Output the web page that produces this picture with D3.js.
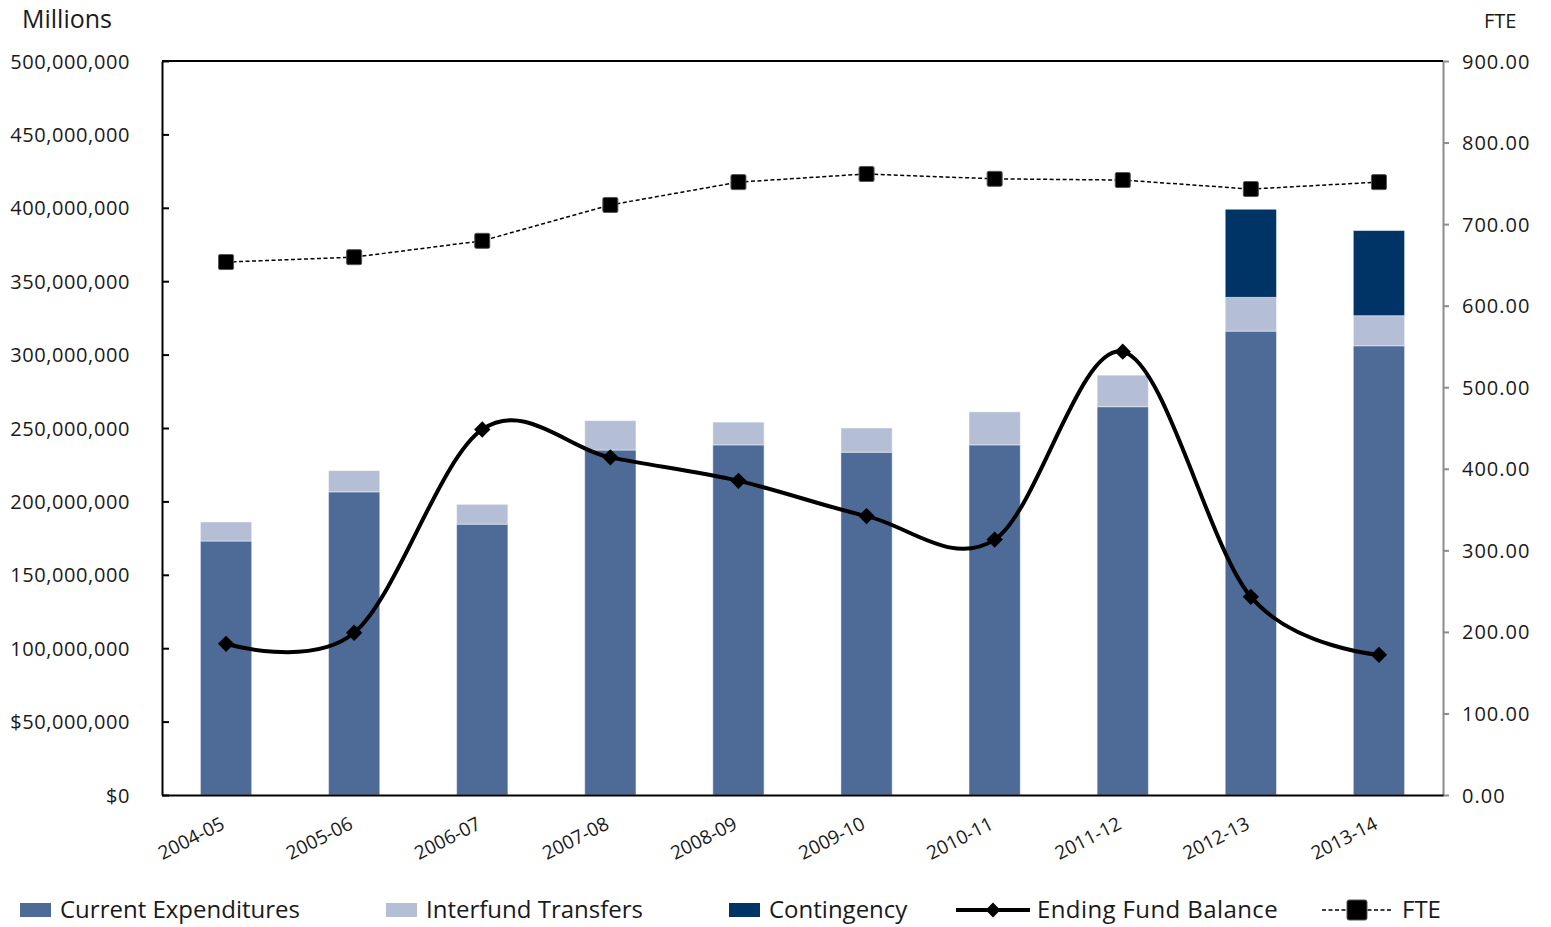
<!DOCTYPE html>
<html>
<head>
<meta charset="utf-8">
<script src="https://cdn.jsdelivr.net/npm/d3@7"></script>
<style>
  body { margin: 0; background: #fff; }
  svg text { font-family: "Open Sans", "Noto Sans", sans-serif; fill: #1a1a1a; }
</style>
</head>
<body>
<svg id="chart" width="1551" height="927"></svg>
<script>
// data (dollars in millions, FTE in positions)
var years = ["2004-05", "2005-06", "2006-07", "2007-08", "2008-09", "2009-10", "2010-11", "2011-12", "2012-13", "2013-14"];
var currentExp = [173, 206.5, 184.5, 235, 238.5, 233.5, 238.5, 264.5, 316, 306];
var interfund = [13, 14.5, 13.5, 20, 15.5, 16.5, 22.5, 21.5, 23, 20.5];
var contingency = [0, 0, 0, 0, 0, 0, 0, 0, 60, 58];
var endingBalance = [103, 110.5, 249, 230, 214, 190, 174, 302, 135, 95.5];
var fte = [653.5, 659.5, 679.5, 723.5, 751.5, 761.5, 755.5, 754, 743, 751.5];
var leftTicks = [0, 50, 100, 150, 200, 250, 300, 350, 400, 450, 500];
var leftTickLabels = ["$0", "$50,000,000", "100,000,000", "150,000,000", "200,000,000", "250,000,000",
                      "300,000,000", "350,000,000", "400,000,000", "450,000,000", "500,000,000"];
var rightTicks = [0, 100, 200, 300, 400, 500, 600, 700, 800, 900];

var colors = {current: "#4e6a96", interfund: "#b4bfd6", contingency: "#003366"};

var svg = d3.select("#chart");
var plotL = 162, plotR = 1443, plotT = 61, plotB = 795;

var x = d3.scaleBand().domain(years).range([plotL, plotR]).paddingInner(0.6).paddingOuter(0.3);
var yL = d3.scaleLinear().domain([0, 500]).range([plotB, plotT]);
var yR = d3.scaleLinear().domain([0, 900]).range([plotB, plotT]);

// stacked bars
var rows = years.map(function(yr, i) {
    return {year: yr, current: currentExp[i], interfund: interfund[i], contingency: contingency[i]};
});
var stack = d3.stack().keys(["current", "interfund", "contingency"]);
var series = stack(rows);

svg.append("g").selectAll("g")
    .data(series)
    .enter().append("g")
    .attr("fill", function(d) { return colors[d.key]; })
    .selectAll("rect")
    .data(function(d) { return d.filter(function(p) { return p[1] > p[0]; }); })
    .enter().append("rect")
    .attr("x", function(d) { return x(d.data.year); })
    .attr("y", function(d) { return yL(d[1]); })
    .attr("width", x.bandwidth())
    .attr("height", function(d) { return yL(d[0]) - yL(d[1]); })
    .attr("stroke", "rgba(255,255,255,0.45)")
    .attr("stroke-width", 1);

// left axis
var axisL = d3.axisLeft(yL).tickValues(leftTicks).tickSizeInner(-7).tickSizeOuter(0)
    .tickFormat(function(d, i) { return leftTickLabels[i]; });
var gL = svg.append("g").attr("transform", "translate(" + plotL + ",0)").call(axisL);
gL.select(".domain").attr("stroke", "#000").attr("stroke-width", 2);
gL.selectAll(".tick line").attr("stroke", "#000").attr("stroke-width", 2);
gL.selectAll(".tick text").attr("x", -32).attr("font-size", 20).attr("dy", "0.35em")
    .style("letter-spacing", "0.6px");

// right axis
var axisR = d3.axisRight(yR).tickValues(rightTicks).tickSizeInner(6).tickSizeOuter(0)
    .tickFormat(d3.format(".2f"));
var gR = svg.append("g").attr("transform", "translate(" + plotR + ",0)").call(axisR);
gR.select(".domain").attr("stroke", "#8c8c8c").attr("stroke-width", 2);
gR.selectAll(".tick line").attr("stroke", "#8c8c8c").attr("stroke-width", 2);
gR.selectAll(".tick text").attr("x", 19).attr("font-size", 20).attr("dy", "0.35em")
    .style("letter-spacing", "1px");

// top border and bottom axis
svg.append("line").attr("x1", plotL).attr("x2", plotR).attr("y1", plotT).attr("y2", plotT)
    .attr("stroke", "#000").attr("stroke-width", 2);
var axisB = d3.axisBottom(x).tickSize(0);
var gB = svg.append("g").attr("transform", "translate(0," + plotB + ")").call(axisB);
gB.select(".domain").attr("stroke", "#000").attr("stroke-width", 2);
gB.selectAll(".tick text")
    .attr("font-size", 19)
    .attr("text-anchor", "end")
    .attr("x", 0).attr("y", 0).attr("dy", 0)
    .attr("transform", "translate(0,33) rotate(-27)");

// axis titles
svg.append("text").attr("x", 22).attr("y", 28).attr("font-size", 25).text("Millions");
svg.append("text").attr("x", 1484).attr("y", 28).attr("font-size", 20).text("FTE");

// FTE dashed line
var cx = function(d, i) { return x(years[i]) + x.bandwidth() / 2; };
var fteLine = d3.line().x(cx).y(function(d) { return yR(d); });
svg.append("path").datum(fte)
    .attr("d", fteLine)
    .attr("fill", "none").attr("stroke", "#000").attr("stroke-width", 1.5)
    .attr("stroke-dasharray", "4,2.5");
svg.append("g").selectAll("rect")
    .data(fte).enter().append("rect")
    .attr("x", function(d, i) { return cx(d, i) - 7.5; })
    .attr("y", function(d) { return yR(d) - 7.5; })
    .attr("width", 15).attr("height", 15).attr("rx", 1.5)
    .attr("fill", "#000").attr("stroke", "#555").attr("stroke-width", 1);

// Ending fund balance smoothed line
var balLine = d3.line().x(cx).y(function(d) { return yL(d); }).curve(d3.curveCardinal.tension(0));
svg.append("path").datum(endingBalance)
    .attr("d", balLine)
    .attr("fill", "none").attr("stroke", "#000").attr("stroke-width", 4);
svg.append("g").selectAll("path")
    .data(endingBalance).enter().append("path")
    .attr("d", d3.symbol().type(d3.symbolDiamond2).size(170))
    .attr("transform", function(d, i) { return "translate(" + cx(d, i) + "," + yL(d) + ")"; })
    .attr("fill", "#000");

// legend
var legY = 910;
var leg = svg.append("g").attr("font-size", 24);
[["Current Expenditures", colors.current, 20], ["Interfund Transfers", colors.interfund, 386],
 ["Contingency", colors.contingency, 729]].forEach(function(item) {
    leg.append("rect").attr("x", item[2]).attr("y", legY - 7).attr("width", 31).attr("height", 14).attr("fill", item[1]);
    leg.append("text").attr("x", item[2] + 40).attr("y", legY).attr("dy", "0.35em").text(item[0]);
});
leg.append("line").attr("x1", 956).attr("x2", 1030).attr("y1", legY).attr("y2", legY)
    .attr("stroke", "#000").attr("stroke-width", 4);
leg.append("path").attr("d", d3.symbol().type(d3.symbolDiamond2).size(140))
    .attr("transform", "translate(993," + legY + ")").attr("fill", "#000");
leg.append("text").attr("x", 1037).attr("y", legY).attr("dy", "0.35em").text("Ending Fund Balance")
    .style("letter-spacing", "0.4px");
leg.append("line").attr("x1", 1322).attr("x2", 1392).attr("y1", legY).attr("y2", legY)
    .attr("stroke", "#000").attr("stroke-width", 1.5).attr("stroke-dasharray", "4,2.5");
leg.append("rect").attr("x", 1347).attr("y", legY - 10).attr("width", 20).attr("height", 20).attr("rx", 2)
    .attr("fill", "#000").attr("stroke", "#555");
leg.append("text").attr("x", 1402).attr("y", legY).attr("dy", "0.35em").text("FTE");
</script>
</body>
</html>
